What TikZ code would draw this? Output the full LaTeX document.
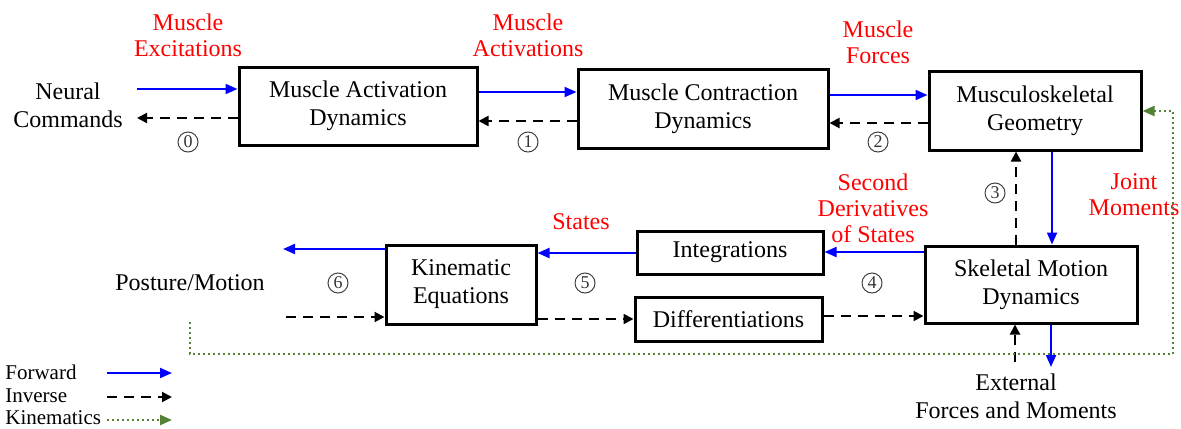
\documentclass[tikz,border=0pt]{standalone}
\usepackage{fontspec}
\setmainfont{Liberation Serif}
\usetikzlibrary{arrows.meta,calc}
\definecolor{fwdblue}{RGB}{0,0,255}
\definecolor{lblred}{RGB}{255,0,0}
\definecolor{kingreen}{RGB}{84,130,53}

\tikzset{
  block/.style={draw, line width=1.5pt, align=center, inner sep=0pt,
                font=\fontsize{12}{14}\selectfont},
  fwd/.style={draw=fwdblue, line width=1pt, -{Triangle[length=6pt,width=5pt]}},
  inv/.style={draw=black, line width=1pt, dash pattern=on 5pt off 3.5pt,
              -{Triangle[length=5pt,width=5pt]}},
  kin/.style={draw=kingreen, line width=1.2pt, dash pattern=on 1pt off 1.5pt,
              -{Triangle[length=6pt,width=5pt,fill=kingreen]}},
  lbl/.style={text=lblred, align=center, font=\fontsize{12}{13}\selectfont},
  txt/.style={align=center, font=\fontsize{12}{14}\selectfont},
  num/.style={circle, draw=black!75, line width=0.5pt, inner sep=0pt,
              minimum size=10pt, font=\fontsize{9}{9}\selectfont, text=black!80},
  leg/.style={anchor=west, inner sep=0pt, font=\fontsize{10.5}{12}\selectfont},
}

\begin{document}
\begin{tikzpicture}[x=0.5pt, y=-0.5pt]
\useasboundingbox (0,0) rectangle (1181,428);

% processing blocks
\node[block, minimum width=119pt, minimum height=39pt]   (b1) at (358,106)   {Muscle Activation\\Dynamics};
\node[block, minimum width=125pt, minimum height=39.5pt] (b2) at (703,108.5) {Muscle Contraction\\Dynamics};
\node[block, minimum width=106pt, minimum height=39.5pt] (b3) at (1035,110.5) {Musculoskeletal\\Geometry};
\node[block, minimum width=106pt, minimum height=38.5pt] (sk) at (1031,284.5) {Skeletal Motion\\Dynamics};
\node[block, minimum width=75pt,  minimum height=39.5pt] (ke) at (461,284.5) {Kinematic\\Equations};
\node[block, minimum width=93pt,  minimum height=21.5pt] (ig) at (730,252.5) {Integrations};
\node[block, minimum width=93.5pt, minimum height=22pt]  (df) at (728.5,319) {Differentiations};

% plain end labels
\node[txt] (nc) at (68,105)  {Neural\\Commands};
\node[txt] (pm) at (190,283) {Posture/Motion};
\node[txt] (ef) at (1016,396) {External\\Forces and Moments};

% signal names
\node[lbl] (lexc) at (188,35)  {Muscle\\Excitations};
\node[lbl] (lact) at (528,35)  {Muscle\\Activations};
\node[lbl] (lfor) at (878,42)  {Muscle\\Forces};
\node[lbl] (lsec) at (873,208) {Second\\Derivatives\\of States};
\node[lbl, inner xsep=0pt] (ljnt) at (1134,195) {Joint\\Moments};
\node[lbl] (lsta) at (581,222) {States};

% step numbers
\node[num] (n0) at (188,142) {0};
\node[num] (n1) at (528,142) {1};
\node[num] (n2) at (878,142) {2};
\node[num] (n3) at (995,193) {3};
\node[num] (n4) at (872,283) {4};
\node[num] (n5) at (585,283) {5};
\node[num] (n6) at (338,283) {6};

% reference levels and free ends
\coordinate (y89)  at (0,89);
\coordinate (y92)  at (0,92);
\coordinate (y95)  at (0,95);
\coordinate (y111) at (0,111);
\coordinate (y118) at (0,118);
\coordinate (y121) at (0,121);
\coordinate (y123) at (0,123);
\coordinate (y249) at (0,249);
\coordinate (y252) at (0,252);
\coordinate (y253) at (0,253);
\coordinate (y316) at (0,316);
\coordinate (y317) at (0,317);
\coordinate (y319) at (0,319);
\coordinate (x1016) at (1016,0);
\coordinate (x1052) at (1052,0);
\coordinate (x1015) at (1015,0);
\coordinate (x1051) at (1051,0);
\coordinate (ncA) at (137,89);
\coordinate (ncB) at (137,118);
\coordinate (pmA) at (283,249);
\coordinate (pmB) at (286,317);
\coordinate (efA) at (1015,362);
\coordinate (efB) at (1051,367);
\coordinate (kA) at (190,322);
\coordinate (kB) at (190,354);
\coordinate (kC) at (1173,354);
\coordinate (kD) at (1173,111);

% top row
\draw[fwd] (ncA) -- (b1.west |- y89);
\draw[inv] (b1.west |- y118) -- (ncB);
\draw[fwd] (b1.east |- y92) -- (b2.west |- y92);
\draw[inv] (b2.west |- y121) -- (b1.east |- y121);
\draw[fwd] (b2.east |- y95) -- (b3.west |- y95);
\draw[inv] (b3.west |- y123) -- (b2.east |- y123);

% geometry <-> skeletal dynamics
\draw[fwd] (b3.south -| x1052) -- (sk.north -| x1052);
\draw[inv] (sk.north -| x1016) -- (b3.south -| x1016);

% lower row, forward
\draw[fwd] (sk.west |- y252) -- (ig.east |- y252);
\draw[fwd] (ig.west |- y253) -- (ke.east |- y253);
\draw[fwd] (ke.west |- y249) -- (pmA);

% lower row, inverse
\draw[inv] (pmB) -- (ke.west |- y317);
\draw[inv] (ke.east |- y319) -- (df.west |- y319);
\draw[inv] (df.east |- y316) -- (sk.west |- y316);

% external loads
\draw[inv] (efA) -- (sk.south -| x1015);
\draw[fwd] (sk.south -| x1051) -- (efB);

% kinematics loop
\draw[kin] (kA) -- (kB) -- (kC) -- (kD) -- (b3.east |- y111);

% legend
\node[leg] (gf) at (5,372) {Forward};
\node[leg] (gi) at (5,396) {Inverse};
\node[leg] (gk) at (5,418) {Kinematics};
\coordinate (gfa) at (107,373); \coordinate (gfb) at (172,373);
\coordinate (gia) at (107,397); \coordinate (gib) at (172,397);
\coordinate (gka) at (107,420); \coordinate (gkb) at (172,420);
\draw[fwd] (gfa) -- (gfb);
\draw[inv] (gia) -- (gib);
\draw[kin] (gka) -- (gkb);
\end{tikzpicture}
\end{document}
